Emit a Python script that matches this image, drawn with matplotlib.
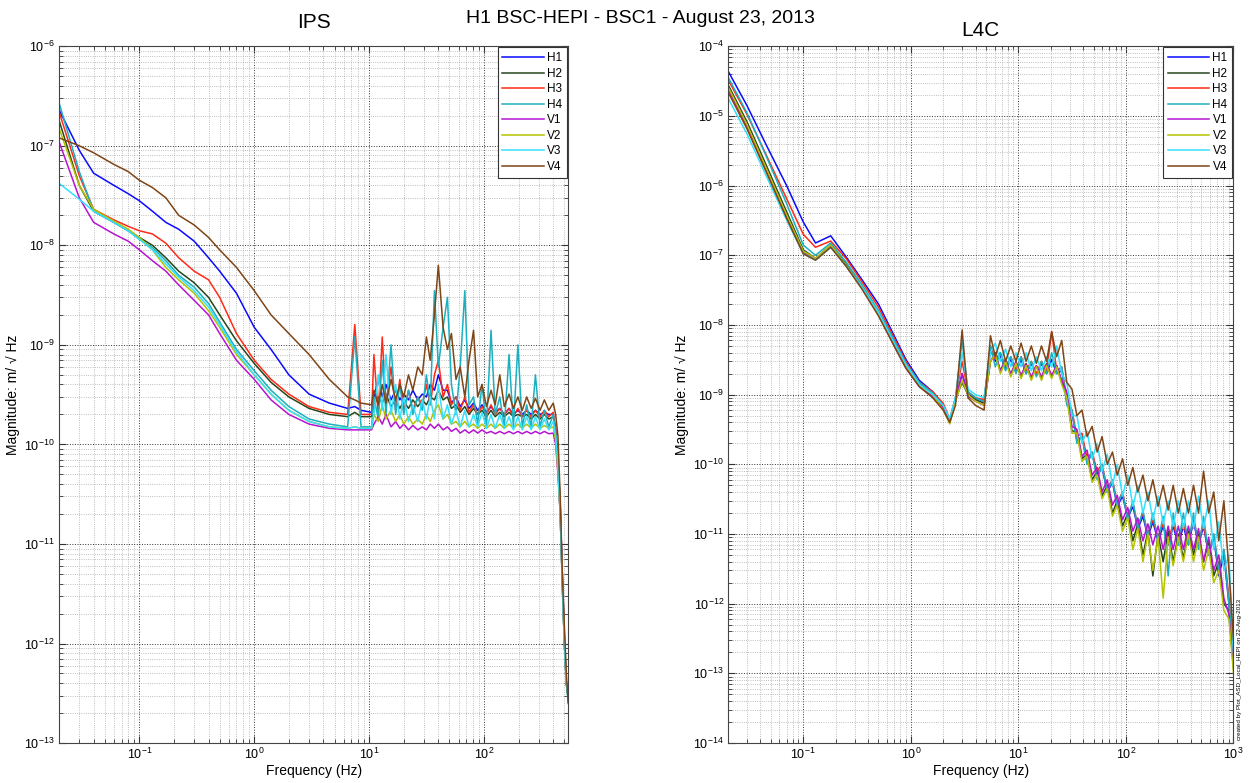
import matplotlib.pyplot as plt
from matplotlib.ticker import LogLocator, NullFormatter

plt.rcParams['font.family'] = ['Liberation Sans', 'DejaVu Sans']

names = ['H1', 'H2', 'H3', 'H4', 'V1', 'V2', 'V3', 'V4']
colors = ['#0a0aff', '#27461b', '#ff2a17', '#1bb0bf', '#b514d1',
          '#b4c200', '#33e0ff', '#7f4516']

# ---- IPS panel (m/rtHz) ----
ips_freq = [0.02, 0.03, 0.04, 0.06, 0.08, 0.1, 0.13, 0.17, 0.22, 0.3, 0.4,
            0.5, 0.7, 1.0, 1.4, 2.0, 3.0, 4.5, 6.5, 7.5, 8.5, 10.5,
            11, 12, 13, 14, 15.5, 17, 18.5, 20, 22, 24, 26.5, 29, 31.5, 34,
            37, 40, 44, 48, 52, 57, 62, 68, 74, 81, 88, 96, 105, 115, 125,
            137, 150, 165, 180, 197, 215, 235, 257, 280, 307, 335, 366, 400,
            420, 440, 460, 480, 500, 520, 540]

ips_h1 = [2.3e-7, 9e-8, 5.3e-8, 4e-8, 3.3e-8, 2.8e-8, 2.2e-8, 1.7e-8, 1.45e-8,
          1.1e-8, 7.5e-9, 5.5e-9, 3.3e-9, 1.5e-9, 9e-10, 5e-10, 3.2e-10,
          2.6e-10, 2.3e-10, 2.4e-10, 2.2e-10, 2.1e-10,
          3e-10, 4.5e-10, 3e-10, 4e-10, 2.8e-10, 3.5e-10, 2.8e-10, 3.2e-10,
          2.8e-10, 3.5e-10, 2.8e-10, 3.2e-10, 3e-10, 4e-10, 3.5e-10, 5e-10,
          3.5e-10, 3.5e-10, 2.6e-10, 3e-10, 2.4e-10, 2.8e-10, 2.3e-10,
          2.6e-10, 2.2e-10, 2.5e-10, 2.1e-10, 2.4e-10, 2.1e-10, 2.3e-10,
          2e-10, 2.3e-10, 2e-10, 2.2e-10, 2e-10, 2.2e-10, 2e-10, 2.2e-10,
          2e-10, 2.1e-10, 2e-10, 2e-10,
          1.4e-10, 7e-11, 2.5e-11, 5e-12, 1.2e-12, 4e-13, 3e-13]
ips_h2 = [1.8e-7, 4e-8, 2.2e-8, 1.7e-8, 1.4e-8, 1.2e-8, 1e-8, 7.5e-9, 5.5e-9,
          4.2e-9, 3e-9, 2e-9, 1.1e-9, 6.5e-10, 4.2e-10, 3e-10, 2.3e-10,
          2e-10, 1.9e-10, 2.1e-10, 1.9e-10, 1.9e-10,
          2.5e-10, 3e-10, 2.6e-10, 3.2e-10, 2.4e-10, 2.8e-10, 2.3e-10,
          2.7e-10, 2.3e-10, 2.8e-10, 2.4e-10, 2.8e-10, 2.5e-10, 3e-10,
          2.8e-10, 3.5e-10, 2.8e-10, 3e-10, 2.3e-10, 2.5e-10, 2.1e-10,
          2.4e-10, 2e-10, 2.3e-10, 2e-10, 2.2e-10, 1.9e-10, 2.2e-10, 1.9e-10,
          2.1e-10, 1.9e-10, 2.1e-10, 1.9e-10, 2e-10, 1.9e-10, 2e-10, 1.8e-10,
          2e-10, 1.8e-10, 2e-10, 1.8e-10, 1.9e-10,
          1.3e-10, 6e-11, 2e-11, 4e-12, 1e-12, 4e-13, 2.8e-13]
ips_h3 = [2.2e-7, 5e-8, 2.3e-8, 1.8e-8, 1.55e-8, 1.4e-8, 1.3e-8, 1.05e-8,
          7.5e-9, 5.5e-9, 4.5e-9, 3e-9, 1.3e-9, 7e-10, 4.5e-10, 3.2e-10,
          2.4e-10, 2.1e-10, 2e-10, 1.6e-9, 2e-10, 2e-10,
          8e-10, 2e-10, 1.2e-9, 2.5e-10, 6e-10, 2.2e-10, 4.5e-10, 2.2e-10,
          3.5e-10, 2.2e-10, 3e-10, 2.5e-10, 4e-10, 2.5e-10, 5e-10, 7e-10,
          3e-10, 4e-10, 2.5e-10, 3e-10, 2.2e-10, 3e-10, 2.1e-10, 2.5e-10,
          2e-10, 2.4e-10, 2e-10, 2.5e-10, 2e-10, 2.3e-10, 2e-10, 2.3e-10,
          1.9e-10, 2.3e-10, 1.9e-10, 2.2e-10, 1.9e-10, 2.2e-10, 1.9e-10,
          2.2e-10, 1.9e-10, 2.1e-10,
          1.4e-10, 7e-11, 2.5e-11, 5e-12, 1.2e-12, 4e-13, 3e-13]
ips_h4 = [2.7e-7, 5.5e-8, 2.2e-8, 1.7e-8, 1.4e-8, 1.15e-8, 9.5e-9, 7e-9, 5e-9,
          3.8e-9, 2.6e-9, 1.7e-9, 9e-10, 5.5e-10, 3.5e-10, 2.4e-10, 1.8e-10,
          1.6e-10, 1.5e-10, 1.2e-9, 1.5e-10, 1.5e-10,
          3e-10, 1.8e-10, 7e-10, 2e-10, 1e-9, 2e-10, 4e-10, 2e-10, 3.5e-10,
          2e-10, 3e-10, 2.2e-10, 5e-10, 2.5e-10, 3.5e-9, 6e-10, 1.5e-9, 3e-9,
          4e-10, 2e-10, 6e-10, 3.5e-9, 2.5e-10, 3e-10, 1.6e-10, 4e-10,
          1.5e-10, 1.4e-9, 2e-10, 3e-10, 1.5e-10, 8e-10, 1.5e-10, 1e-9,
          1.5e-10, 2.5e-10, 1.5e-10, 5e-10, 1.5e-10, 2.2e-10, 1.5e-10, 2e-10,
          1.3e-10, 7e-11, 2.5e-11, 4e-12, 1e-12, 4e-13, 2.6e-13]
ips_v1 = [1.1e-7, 3e-8, 1.7e-8, 1.3e-8, 1.1e-8, 9e-9, 7e-9, 5.5e-9, 4e-9,
          2.8e-9, 2e-9, 1.3e-9, 7e-10, 4.5e-10, 2.8e-10, 2e-10, 1.6e-10,
          1.45e-10, 1.4e-10, 1.4e-10, 1.4e-10, 1.4e-10,
          1.6e-10, 1.9e-10, 1.6e-10, 2e-10, 1.5e-10, 1.7e-10, 1.45e-10,
          1.6e-10, 1.4e-10, 1.55e-10, 1.4e-10, 1.5e-10, 1.4e-10, 1.6e-10,
          1.45e-10, 1.6e-10, 1.4e-10, 1.5e-10, 1.35e-10, 1.45e-10, 1.3e-10,
          1.4e-10, 1.3e-10, 1.4e-10, 1.3e-10, 1.4e-10, 1.3e-10, 1.35e-10,
          1.28e-10, 1.35e-10, 1.28e-10, 1.35e-10, 1.28e-10, 1.35e-10,
          1.28e-10, 1.35e-10, 1.28e-10, 1.35e-10, 1.28e-10, 1.35e-10,
          1.28e-10, 1.3e-10,
          1e-10, 5e-11, 2e-11, 4e-12, 1e-12, 4e-13, 3e-13]
ips_v2 = [1.5e-7, 4e-8, 2.3e-8, 1.75e-8, 1.45e-8, 1.2e-8, 9e-9, 6e-9, 4.5e-9,
          3.3e-9, 2.2e-9, 1.5e-9, 8e-10, 5e-10, 3.2e-10, 2.2e-10, 1.7e-10,
          1.5e-10, 1.45e-10, 1.5e-10, 1.45e-10, 1.45e-10,
          2e-10, 1.7e-10, 2.5e-10, 1.8e-10, 2.2e-10, 1.7e-10, 2e-10, 1.6e-10,
          1.9e-10, 1.6e-10, 1.8e-10, 1.6e-10, 2e-10, 1.7e-10, 2.2e-10,
          2.5e-10, 1.8e-10, 2e-10, 1.6e-10, 1.7e-10, 1.5e-10, 1.7e-10,
          1.5e-10, 1.6e-10, 1.45e-10, 1.6e-10, 1.45e-10, 1.6e-10, 1.45e-10,
          1.6e-10, 1.45e-10, 1.6e-10, 1.45e-10, 1.6e-10, 1.45e-10, 1.6e-10,
          1.45e-10, 1.6e-10, 1.45e-10, 1.55e-10, 1.45e-10, 1.5e-10,
          1.1e-10, 5.5e-11, 2e-11, 4e-12, 1e-12, 4e-13, 3e-13]
ips_v3 = [4.2e-8, 2.9e-8, 2.2e-8, 1.7e-8, 1.4e-8, 1.15e-8, 9e-9, 6.5e-9,
          4.8e-9, 3.5e-9, 2.4e-9, 1.6e-9, 8.5e-10, 5e-10, 3.2e-10, 2.2e-10,
          1.7e-10, 1.5e-10, 1.45e-10, 1.5e-10, 1.45e-10, 1.45e-10,
          2e-10, 5e-10, 2.2e-10, 8e-10, 2e-10, 4e-10, 1.8e-10, 3e-10,
          1.7e-10, 2.5e-10, 1.7e-10, 2.8e-10, 1.8e-10, 3e-10, 1.8e-10, 4e-10,
          1.8e-10, 2.5e-10, 1.6e-10, 2.2e-10, 1.5e-10, 2.2e-10, 1.5e-10,
          2e-10, 1.5e-10, 2.1e-10, 1.45e-10, 2e-10, 1.45e-10, 2e-10, 1.45e-10,
          1.9e-10, 1.4e-10, 1.9e-10, 1.4e-10, 1.9e-10, 1.4e-10, 1.9e-10,
          1.4e-10, 1.8e-10, 1.4e-10, 1.7e-10,
          1.2e-10, 6e-11, 2e-11, 4e-12, 1e-12, 4e-13, 2.8e-13]
ips_v4 = [1.2e-7, 1e-7, 8.5e-8, 6.5e-8, 5.5e-8, 4.5e-8, 3.8e-8, 3e-8, 2e-8,
          1.6e-8, 1.2e-8, 9e-9, 6e-9, 3.5e-9, 2e-9, 1.3e-9, 8e-10, 4.5e-10,
          3e-10, 2.8e-10, 2.6e-10, 2.5e-10,
          3.5e-10, 2.5e-10, 4e-10, 2.6e-10, 4.5e-10, 2.8e-10, 4e-10, 3e-10,
          5e-10, 3.5e-10, 6e-10, 5e-10, 1.2e-9, 7e-10, 2e-9, 6.3e-9, 1.5e-9,
          9e-10, 1.3e-9, 4.5e-10, 6e-10, 3e-10, 7e-10, 1.4e-9, 3e-10, 4e-10,
          2.4e-10, 3.5e-10, 2.5e-10, 5e-10, 2.4e-10, 3.2e-10, 2.3e-10, 3e-10,
          2.2e-10, 3e-10, 2.3e-10, 2.9e-10, 2.2e-10, 2.8e-10, 2.2e-10, 2.6e-10,
          2e-10, 1.2e-10, 3e-11, 5e-12, 1.5e-12, 5e-13, 2.5e-13]

# ---- L4C panel ----
l4c_freq = [0.02, 0.03, 0.045, 0.07, 0.1, 0.13, 0.18, 0.25, 0.35, 0.5, 0.7,
            0.9, 1.2, 1.6, 2.0, 2.3, 2.6, 3.0, 3.4, 4.0, 4.8,
            5.5, 6.1, 6.8, 7.6, 8.5, 9.5, 10.6, 11.8, 13.2, 14.7, 16.4, 18.3,
            20.4, 22.7, 25.3, 28.2, 31.5, 35, 39, 43.5, 48.5, 54, 60, 67, 75,
            83, 93, 104, 116, 129, 144, 160, 178, 199, 222, 247, 275, 307,
            342, 381, 425, 473, 527, 588, 655, 730, 814, 907, 1000]

l4c_h1 = [4.4e-5, 1.4e-5, 3.9e-6, 1e-6, 3e-7, 1.5e-7, 1.9e-7, 9.5e-8, 4.5e-8,
          2e-8, 7e-9, 3.2e-9, 1.6e-9, 1.1e-9, 7e-10, 4e-10, 8e-10, 2e-9, 1e-9,
          9e-10, 8e-10,
          4.5e-9, 3e-9, 3.6e-9, 2.3e-9, 3.2e-9, 2.1e-9, 3.2e-9, 2e-9, 2.8e-9,
          1.9e-9, 2.8e-9, 2e-9, 3.2e-9, 2e-9, 2.2e-9, 8e-10, 5.5e-10, 2.2e-10,
          2.5e-10, 1.1e-10, 1.4e-10, 7e-11, 9e-11, 4e-11, 5.5e-11, 2.5e-11,
          3.5e-11, 1.7e-11, 2.5e-11, 1.2e-11, 1.8e-11, 9e-12, 1.5e-11, 8e-12,
          1.3e-11, 7e-12, 1.3e-11, 7e-12, 1.3e-11, 7e-12, 1.5e-11, 7e-12,
          1.3e-11, 5e-12, 9e-12, 2.5e-12, 5e-12, 1e-12, 1.5e-13]
l4c_h2 = [2.8e-5, 8.2e-6, 2e-6, 4.2e-7, 1.2e-7, 9e-8, 1.4e-7, 7.5e-8, 3.6e-8,
          1.5e-8, 5.5e-9, 2.6e-9, 1.4e-9, 1e-9, 7e-10, 4.2e-10, 8.5e-10,
          1.5e-9, 1e-9, 8.5e-10, 7.5e-10,
          3e-9, 4e-9, 2.2e-9, 3.2e-9, 1.9e-9, 3e-9, 1.8e-9, 2.8e-9, 1.7e-9,
          2.6e-9, 1.7e-9, 2.8e-9, 1.8e-9, 2.6e-9, 1.5e-9, 1e-9, 3e-10, 3e-10,
          1.2e-10, 1.4e-10, 6e-11, 8e-11, 3.5e-11, 5e-11, 2e-11, 3e-11,
          1.3e-11, 2e-11, 8e-12, 1.4e-11, 5e-12, 1.1e-11, 2.5e-12, 1e-11,
          4e-12, 1.1e-11, 4e-12, 1e-11, 4.5e-12, 1.1e-11, 5e-12, 1e-11, 4e-12,
          8e-12, 2.5e-12, 4e-12, 1e-12, 8e-13, 1.5e-13]
l4c_h3 = [3.3e-5, 1.05e-5, 2.8e-6, 6.5e-7, 2e-7, 1.3e-7, 1.6e-7, 9e-8, 4.2e-8,
          1.8e-8, 6.5e-9, 3e-9, 1.5e-9, 1.1e-9, 7.5e-10, 4.5e-10, 9e-10, 3e-9,
          1.1e-9, 9e-10, 8.5e-10,
          5e-9, 3.2e-9, 4e-9, 2.5e-9, 3.5e-9, 2.3e-9, 3.5e-9, 2.2e-9, 3e-9,
          2e-9, 3e-9, 2.2e-9, 8e-9, 2.2e-9, 2.5e-9, 9e-10, 6e-10, 2.5e-10,
          2.8e-10, 1.2e-10, 1.5e-10, 8e-11, 1e-10, 4.5e-11, 6e-11, 2.8e-11,
          4e-11, 1.8e-11, 2.8e-11, 1.3e-11, 2e-11, 1e-11, 1.6e-11, 9e-12,
          1.4e-11, 8e-12, 1.4e-11, 8e-12, 1.4e-11, 8e-12, 1.6e-11, 8e-12,
          1.4e-11, 5e-12, 1e-11, 3e-12, 6e-12, 1.2e-12, 2e-13]
l4c_h4 = [3.6e-5, 1.1e-5, 2.7e-6, 5.5e-7, 1.4e-7, 1e-7, 1.5e-7, 8e-8, 3.8e-8,
          1.6e-8, 6e-9, 2.8e-9, 1.5e-9, 1.05e-9, 7e-10, 4.3e-10, 9e-10, 6e-9,
          1.1e-9, 9e-10, 8e-10,
          5e-9, 2.5e-9, 4e-9, 2.2e-9, 3.5e-9, 2e-9, 3.5e-9, 2e-9, 3e-9,
          1.8e-9, 3e-9, 2e-9, 4e-9, 2e-9, 2.5e-9, 7e-10, 6e-10, 2e-10,
          2.5e-10, 1e-10, 1.5e-10, 6e-11, 1e-10, 4e-11, 6e-11, 2.5e-11, 4e-11,
          1.6e-11, 3e-11, 1.2e-11, 2.2e-11, 9e-12, 2e-11, 8e-12, 1.8e-11,
          2.5e-12, 2e-11, 7e-12, 2e-11, 7e-12, 2e-11, 6e-12, 1.8e-11, 5e-12,
          1e-11, 3e-12, 6e-12, 1e-12, 2e-13]
l4c_v1 = [2.4e-5, 7e-6, 1.7e-6, 3.6e-7, 1.1e-7, 9e-8, 1.35e-7, 7e-8, 3.4e-8,
          1.4e-8, 5e-9, 2.4e-9, 1.3e-9, 9.5e-10, 6.5e-10, 4e-10, 8e-10, 2e-9,
          9.5e-10, 8e-10, 7e-10,
          3e-9, 3.8e-9, 2.2e-9, 3.1e-9, 2e-9, 2.9e-9, 1.9e-9, 2.7e-9, 1.8e-9,
          2.6e-9, 1.8e-9, 2.7e-9, 1.9e-9, 2.6e-9, 1.6e-9, 1.1e-9, 3.5e-10,
          3.2e-10, 1.3e-10, 1.6e-10, 7e-11, 9e-11, 4e-11, 6e-11, 2.6e-11,
          3.6e-11, 1.6e-11, 2.4e-11, 1.1e-11, 1.7e-11, 8e-12, 1.4e-11, 7e-12,
          1.3e-11, 6e-12, 1.3e-11, 6e-12, 1.3e-11, 6e-12, 1.3e-11, 6e-12,
          1.2e-11, 4e-12, 9e-12, 3e-12, 5e-12, 1.2e-12, 7e-13, 1.2e-13]
l4c_v2 = [2.6e-5, 7.5e-6, 1.8e-6, 3.8e-7, 1.15e-7, 9e-8, 1.4e-7, 7.2e-8,
          3.5e-8, 1.45e-8, 5.2e-9, 2.5e-9, 1.35e-9, 1e-9, 6e-10, 3.8e-10,
          8e-10, 1.6e-9, 1e-9, 8e-10, 7e-10,
          3e-9, 3.8e-9, 2e-9, 3e-9, 1.8e-9, 2.8e-9, 1.7e-9, 2.6e-9, 1.6e-9,
          2.5e-9, 1.6e-9, 2.6e-9, 1.7e-9, 2.5e-9, 1.4e-9, 9e-10, 2.8e-10,
          2.8e-10, 1.1e-10, 1.3e-10, 5.5e-11, 7e-11, 3.2e-11, 4.5e-11, 1.8e-11,
          2.6e-11, 1.1e-11, 1.7e-11, 6e-12, 1.2e-11, 4e-12, 1e-11, 3e-12,
          9e-12, 1.2e-12, 9e-12, 3.5e-12, 9e-12, 4e-12, 1e-11, 4e-12, 9e-12,
          3e-12, 6e-12, 2e-12, 3e-12, 8e-13, 6e-13, 1e-13]
l4c_v3 = [1.8e-5, 5.5e-6, 1.4e-6, 3.2e-7, 1.05e-7, 8.5e-8, 1.3e-7, 7e-8,
          3.5e-8, 1.5e-8, 5.5e-9, 2.7e-9, 1.4e-9, 1e-9, 7e-10, 4.5e-10, 9e-10,
          4e-9, 1.2e-9, 1e-9, 9e-10,
          4e-9, 5.5e-9, 3e-9, 4.5e-9, 2.5e-9, 4e-9, 2.5e-9, 4e-9, 2.2e-9,
          3.5e-9, 2.2e-9, 3.5e-9, 2.5e-9, 5e-9, 2e-9, 1.5e-9, 5e-10, 5e-10,
          2e-10, 3e-10, 1.2e-10, 2e-10, 8e-11, 1.4e-10, 5e-11, 1e-10, 3.5e-11,
          7e-11, 2.5e-11, 5e-11, 2e-11, 4e-11, 1.6e-11, 3.5e-11, 1.4e-11,
          3e-11, 1.3e-11, 3e-11, 1.2e-11, 3e-11, 1.2e-11, 3.5e-11, 1.2e-11,
          3e-11, 6e-12, 1.5e-11, 3e-12, 5e-12, 2e-13]
l4c_v4 = [2.2e-5, 6.5e-6, 1.6e-6, 3.4e-7, 1.05e-7, 8.5e-8, 1.3e-7, 7e-8,
          3.3e-8, 1.35e-8, 5e-9, 2.4e-9, 1.3e-9, 9e-10, 6e-10, 4e-10, 7e-10,
          8.5e-9, 9e-10, 7e-10, 6e-10,
          7e-9, 3.5e-9, 6e-9, 3e-9, 5e-9, 3e-9, 5.5e-9, 3e-9, 5e-9, 2.8e-9,
          5e-9, 3e-9, 8e-9, 3.5e-9, 6e-9, 1.5e-9, 1.2e-9, 5e-10, 6e-10,
          2.5e-10, 3.5e-10, 1.5e-10, 2.5e-10, 1e-10, 1.5e-10, 7e-11, 1.2e-10,
          5e-11, 9e-11, 4e-11, 7e-11, 3e-11, 6e-11, 2.5e-11, 5e-11, 2.2e-11,
          5e-11, 2e-11, 4.5e-11, 2e-11, 5e-11, 2e-11, 8e-11, 2e-11, 4e-11,
          8e-12, 3e-11, 3e-12, 3e-13]

ips_data = [ips_h1, ips_h2, ips_h3, ips_h4, ips_v1, ips_v2, ips_v3, ips_v4]
l4c_data = [l4c_h1, l4c_h2, l4c_h3, l4c_h4, l4c_v1, l4c_v2, l4c_v3, l4c_v4]


def style_axis(ax, xlim, ylim, xticks, yticks):
    ax.set_xscale('log')
    ax.set_yscale('log')
    ax.set_xticks(xticks)
    ax.set_yticks(yticks)
    ax.set_xlim(*xlim)
    ax.set_ylim(*ylim)
    ax.xaxis.set_minor_locator(LogLocator(base=10, subs=range(2, 10), numticks=20))
    ax.yaxis.set_minor_locator(LogLocator(base=10, subs=range(2, 10), numticks=20))
    ax.xaxis.set_minor_formatter(NullFormatter())
    ax.yaxis.set_minor_formatter(NullFormatter())
    ax.grid(True, which='major', linestyle=':', color='#333333', linewidth=0.7)
    ax.grid(True, which='minor', linestyle=':', color='#aaaaaa', linewidth=0.6)
    ax.tick_params(which='both', direction='in', top=True, right=True,
                   labelsize=9, color='#333333', pad=3)
    ax.tick_params(which='minor', labelbottom=False, labelleft=False)
    ax.tick_params(which='major', length=5)
    ax.tick_params(which='minor', length=3)
    for s in ax.spines.values():
        s.set_color('#444444')
        s.set_linewidth(0.8)
    ax.set_xlabel('Frequency (Hz)', fontsize=10, labelpad=1)
    ax.set_ylabel('Magnitude: m/ \u221a Hz', fontsize=10, labelpad=3)
    leg = ax.legend(loc='upper right', fontsize=8.5, handlelength=3.5,
                    fancybox=False, framealpha=1, edgecolor='#333333',
                    borderaxespad=0.1, labelspacing=0.3, handletextpad=0.3)
    leg.get_frame().set_linewidth(0.8)


fig = plt.figure(figsize=(12.51, 7.83), dpi=100)
ax1 = fig.add_axes([0.0472, 0.051, 0.407, 0.890])
ax2 = fig.add_axes([0.582, 0.051, 0.404, 0.890])

for name, col, vals in zip(names, colors, ips_data):
    ax1.plot(ips_freq, vals, color=col, linewidth=1.1, label=name)
for name, col, vals in zip(names, colors, l4c_data):
    ax2.plot(l4c_freq, vals, color=col, linewidth=1.1, label=name)

style_axis(ax1, (0.02, 540), (1e-13, 1e-6), [0.1, 1, 10, 100],
           [1e-13, 1e-12, 1e-11, 1e-10, 1e-9, 1e-8, 1e-7, 1e-6])
style_axis(ax2, (0.02, 1000), (1e-14, 1e-4), [0.1, 1, 10, 100, 1000],
           [1e-14, 1e-13, 1e-12, 1e-11, 1e-10, 1e-9, 1e-8, 1e-7, 1e-6,
            1e-5, 1e-4])

ax1.set_title('IPS', fontsize=15, pad=13)
ax2.set_title('L4C', fontsize=15, pad=7)
fig.text(0.512, 0.977, 'H1 BSC-HEPI - BSC1 - August 23, 2013', ha='center',
         va='center', fontsize=14)
fig.text(0.9905, 0.055, 'created by Plot_ASD_Local_HEPI on 22-Aug-2013',
         rotation=90, fontsize=4.5, ha='center', va='bottom')

fig.savefig('out.png', dpi=100)
